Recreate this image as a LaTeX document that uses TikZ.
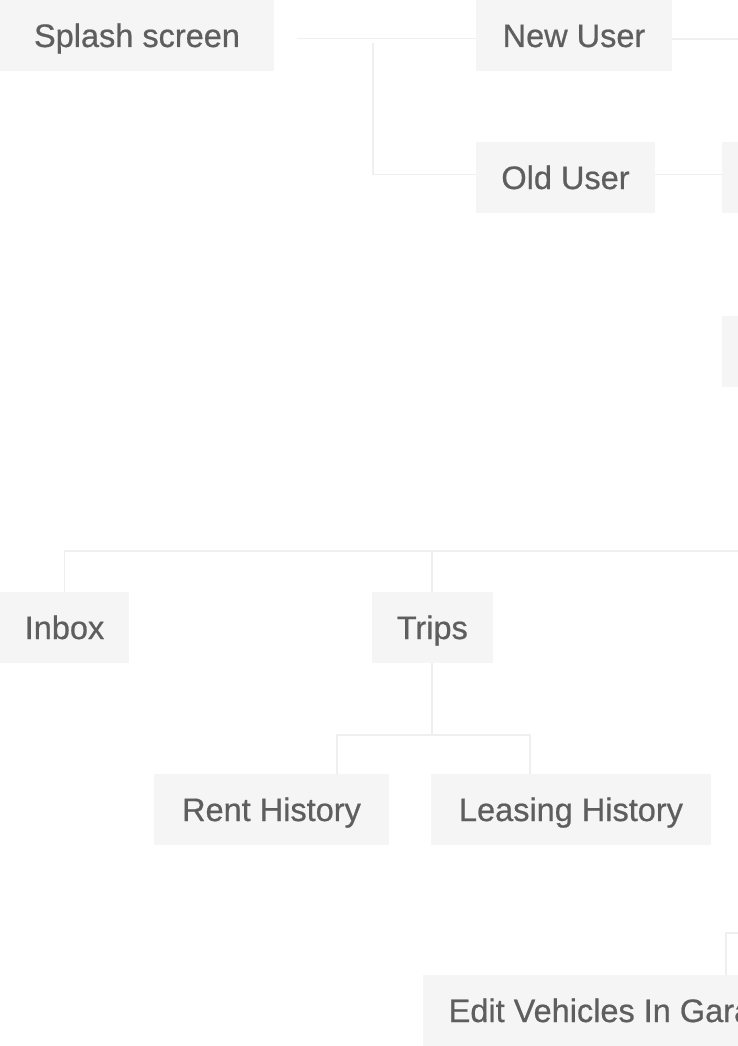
\documentclass[tikz,border=0pt]{standalone}
\usepackage{fontspec}
\setmainfont{Liberation Sans}
\newfontfamily\boxfont{Liberation Sans}[FakeBold=0.6]
\usepackage{tikz}
\usetikzlibrary{positioning}
\definecolor{boxfill}{HTML}{F5F5F5}
\definecolor{boxtext}{HTML}{5E5E5E}
\definecolor{linkline}{HTML}{EFEFEF}
\tikzstyle{block} = [rectangle, fill=boxfill, text=boxtext, inner sep=0pt, minimum height=71pt, text height=23pt, text depth=0pt, font=\boxfont\fontsize{32.5}{39}\selectfont]
\tikzstyle{link} = [draw=linkline, line width=1.7pt]

\begin{document}
\begin{tikzpicture}[x=1pt, y=1pt, node distance=142pt]

    \useasboundingbox (0,0) rectangle (738,-1046);
    \clip (0,0) rectangle (738,-1046);

    % Entry
    \node (splash) [block, minimum width=274pt] at (137,-35.5) {Splash screen};
    \node (newuser) [block, minimum width=196pt, right of=splash, xshift=295pt] {New User};
    \node (olduser) [block, minimum width=179pt, below of=newuser, xshift=-8.5pt] {Old User};
    \node (oldnext) [block, minimum width=200pt, right of=olduser, xshift=114.5pt] {};
    \node (oldnext2) [block, minimum width=200pt, below of=oldnext, yshift=-31.5pt] {};

    % Tabs
    \node (inbox) [block, minimum width=129pt] at (64.5,-627.5) {Inbox};
    \node (trips) [block, minimum width=121pt, right of=inbox, xshift=225.8pt] {Trips};
    \node (rent) [block, minimum width=235pt, below of=trips, xshift=-160.8pt, yshift=-40pt] {Rent History};
    \node (leasing) [block, minimum width=280pt, right of=rent, xshift=157.5pt] {Leasing History};
    \node (edit) [block, minimum width=391pt, below of=leasing, xshift=47.5pt, yshift=-59pt] {Edit Vehicles In Garage};

    % off-picture ends
    \coordinate (newout) at (760,-39);
    \coordinate (tabbar) at (760,-551);
    \coordinate (editparent) at (760,-933);

    % ==== Lines
    \draw [link] ([xshift=23pt,yshift=-3pt]splash.east) -- ([yshift=-3pt]newuser.west);
    \draw [link] ([xshift=99pt,yshift=-7.5pt]splash.east) |- ([yshift=3pt]olduser.west);
    \draw [link] ([yshift=-3.5pt]newuser.east) -- (newout);
    \draw [link] ([yshift=3pt]olduser.east) -- ([yshift=3pt]oldnext.west);

    % Tabs
    \draw [link] (inbox.north) |- (tabbar);
    \draw [link] (trips.north) -- (trips.north |- tabbar);
    \draw [link] (trips.south) -- ++(0,-72) -| ([xshift=65.5pt]rent.north);
    \draw [link] (trips.south) -- ++(0,-72) -| ([xshift=-41pt]leasing.north);
    \draw [link] ([xshift=107.5pt]edit.north) |- (editparent);

\end{tikzpicture}
\end{document}
